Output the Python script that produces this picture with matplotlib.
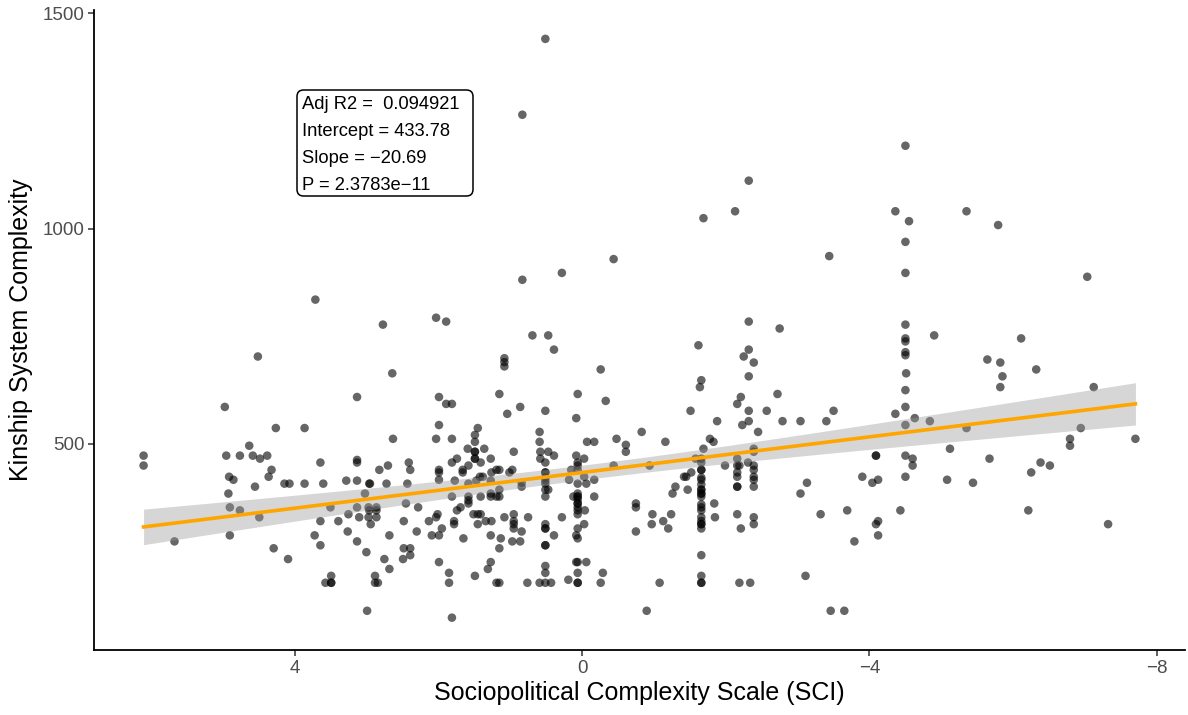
import numpy as np
import matplotlib
matplotlib.use("Agg")
import matplotlib.pyplot as plt
from matplotlib.patches import FancyBboxPatch

plt.rcParams['font.family'] = ['Liberation Sans', 'DejaVu Sans']

points = [
(0.51,1440),(0.83,1264),(-2.32,1111),(-1.69,1024),(-2.13,1040),(-3.44,936),(-4.5,1192),(-4.36,1040),(-4.55,1017),(-4.5,969),(-4.5,897),(-5.35,1040),(-5.79,1008),(-7.03,888),(0.83,881),(0.28,897),(-0.44,929),(3.71,835),
(4.51,703),(4.97,586),(4.26,537),(3.86,537),(3.13,609),(4.63,496),(6.10,473),(6.10,450),(4.95,473),(4.76,473),(4.58,473),(4.48,466),(4.38,473),(4.32,440),(4.36,424),(4.91,424),(4.85,417),(3.64,457),(3.13,463),(3.13,457),
(4.55,401),(4.14,408),(4.07,408),(3.86,408),(3.60,408),(3.28,415),(3.13,415),(2.96,408),(4.92,385),(4.90,353),(4.76,346),(4.49,330),(5.67,274),(4.90,288),(4.29,258),(4.09,233),(3.50,353),(3.64,321),(3.39,321),(3.25,337),(3.13,353),(3.10,330),(3.02,385),(2.97,353),(2.96,346),(2.97,330),(2.94,314),(3.72,288),(3.64,265),(3.26,297),(3.13,274),(3.00,249),(3.49,194),(3.57,178),(3.49,178),(3.49,178),(2.99,113),
(2.77,777),(2.03,793),(1.89,784),(2.64,664),(0.69,752),(0.47,752),(0.39,719),(1.08,699),(1.08,690),(1.08,680),(-0.26,673),(1.99,609),(1.89,593),(1.81,593),(1.15,616),(0.06,616),(-0.33,600),(0.86,586),(1.04,570),(0.51,577),(0.08,560),(1.99,544),(2.63,512),(2.03,512),(1.81,512),(1.45,537),(1.49,521),(1.49,505),(1.49,482),(1.49,482),(1.49,466),(1.49,466),(1.59,489),(1.36,489),(1.74,466),(1.81,457),(1.27,466),(1.41,457),(1.58,450),(1.66,440),(1.66,434),(1.99,440),(1.99,434),(1.99,417),(2.41,457),(2.39,440),(2.70,450),(2.82,440),(0.59,528),(0.59,505),(0.58,482),(0.47,482),(0.39,473),(0.58,466),(0.51,457),(0.51,434),(0.51,434),(0.51,422),(0.95,482),(0.97,440),(1.01,434),(1.19,440),(1.15,440),(1.26,434),(1.42,424),(1.38,424),(-0.07,505),(-0.17,505),(-0.48,512),(-0.61,498),(-0.61,482),(-0.83,528),(0.08,473),(-0.03,466),(0.06,457),(0.06,450),(0.06,440),(0.15,440),(-0.03,424),(-0.44,450),(0.18,417),(-0.17,417),(0.84,410),
(2.95,408),(2.72,408),(2.43,408),(1.77,415),(1.58,408),(1.47,415),(1.27,415),(0.84,401),(0.51,415),(0.51,408),(0.51,394),(0.51,378),(0.47,394),(0.06,408),(-0.06,408),
(2.86,353),(2.86,346),(2.86,330),
(2.45,362),(2.28,353),(2.48,321),(2.30,297),(2.68,288),(1.81,378),(1.58,378),(1.58,369),(1.58,362),(1.41,378),(1.27,385),(1.27,378),(1.15,394),(1.19,378),(1.15,378),(1.69,353),(1.74,346),(2.01,337),(2.03,330),(2.13,321),(1.51,337),(1.45,337),(1.41,337),(1.78,321),(1.78,314),(1.45,314),(1.34,321),(1.26,321),(1.08,330),(0.95,337),(0.95,321),(0.95,314),(0.95,304),(0.75,330),(0.84,297),(0.51,314),(0.51,304),(0.51,304),(0.39,288),(0.28,330),
(0.06,385),(0.06,378),(0.06,371),(0.06,362),(0.06,353),(0.06,346),(0.06,337),(0.06,378),(0.06,362),
(0.12,378),(-0.17,378),(-0.04,346),(0.06,304),(-0.03,314),(0.08,288),(0.06,281),(-0.75,362),(-0.75,353),(-0.75,297),(2.09,288),(1.99,288),(1.95,304),(1.65,281),(1.27,288),(1.13,281),(0.97,274),(0.86,274),(1.15,258),(0.51,265),(0.51,265),(2.48,258),(2.39,258),(2.39,242),(2.49,233),(2.75,233),(2.68,210),
(1.99,226),(1.27,226),(1.31,210),(1.85,201),(1.85,178),(1.49,194),(2.88,194),(2.84,178),(2.88,178),(1.19,178),(1.15,178),(0.76,178),(0.59,178),(0.51,178),(0.43,178),(0.51,201),(0.51,217),(0.19,185),(0.08,226),(0.06,226),(-0.06,226),(0.06,201),(0.06,178),(0.06,178),(-0.29,201),(-0.26,178),(1.81,97),(-0.90,113),
(-2.32,784),(-2.75,768),(-1.62,729),(-2.32,719),(-2.25,703),(-2.39,689),(-2.32,657),(-1.66,648),(-1.64,632),(-2.21,609),(-2.16,593),(-2.72,616),(-1.51,577),(-2.32,577),(-2.57,577),(-1.88,553),(-2.23,544),(-2.32,553),(-2.79,553),(-3.04,553),(-3.40,553),(-3.50,577),(-2.45,528),(-1.16,505),(-1.78,512),(-1.83,505),(-1.69,489),(-2.39,489),(-2.39,482),(-1.58,466),(-1.66,457),(-1.66,440),(-1.66,417),(-1.66,466),(-1.66,440),
(-0.94,450),(-2.16,466),(-2.16,450),(-2.19,450),(-2.16,434),(-2.16,424),(-2.31,457),(-2.39,450),(-2.39,440),(-2.39,424),(-2.39,417),(-1.99,450),(-1.52,434),(-1.42,424),(-1.45,424),(-3.90,424),(-4.09,473),(-4.09,473),(-4.12,417),(-4.04,410),(-3.13,410),
(-4.5,777),(-4.5,745),(-4.5,738),(-4.5,713),(-4.5,706),(-4.51,664),(-4.5,625),(-4.5,586),(-4.5,544),(-4.36,570),(-4.63,560),(-4.5,473),(-4.6,466),(-4.6,450),(-4.5,424),
(-4.90,752),(-6.11,745),(-5.64,696),(-5.82,689),(-5.85,657),(-5.82,632),(-6.32,673),(-7.12,632),(-4.84,553),(-5.35,537),(-6.94,537),(-6.79,512),(-6.79,496),(-7.70,512),(-5.12,489),(-5.67,466),(-6.38,457),(-6.51,450),(-6.25,434),(-5.08,417),(-5.44,410),(-6.21,346),(-7.32,314),
(-1.66,422),(-1.66,406),(-1.66,394),(-1.66,385),(-1.66,378),(-1.66,360),(-1.66,353),(-1.66,346),(-1.66,330),(-1.66,321),(-1.66,314),(-1.66,304),(-1.66,242),(-1.66,194),(-1.66,178),(-1.66,178),(-1.66,394),(-1.66,385),(-1.66,314),
(-1.30,401),(-1.26,385),(-1.47,394),(-1.84,362),(-1.85,330),(-0.98,337),(-1.24,337),(-0.97,314),(-1.13,321),(-1.20,304),(-1.08,178),
(-2.16,401),(-2.16,401),(-2.39,401),
(-2.16,337),(-2.21,304),(-2.39,330),(-2.39,314),(-2.19,178),(-2.34,178),(-3.04,385),(-3.32,337),(-3.69,346),(-3.11,194),(-3.79,274),(-3.46,113),(-3.65,113),(-4.12,321),(-4.09,314),(-4.12,288),(-4.43,346),
]
sci = [p[0] for p in points]
kinship = [p[1] for p in points]

intercept = 433.78
slope = -20.69
annotation = ["Adj R2 =  0.094921", "Intercept = 433.78", "Slope = \u221220.69", "P = 2.3783e\u221211"]

x = np.array(sci, dtype=float)
y = np.array(kinship, dtype=float)

fig = plt.figure(figsize=(11.88, 7.15), dpi=100)
ax = fig.add_axes([94/1188, 1-650/715, (1185-94)/1188, (650-10)/715])

ax.scatter(x, y, s=38, color='black', alpha=0.6, edgecolors='none', zorder=3)

# regression line + 95% CI
xs = np.linspace(x.min(), x.max(), 200)
ys = intercept + slope * xs
n = len(x)
resid = y - (intercept + slope * x)
s = np.sqrt(np.sum(resid**2) / (n - 2))
sxx = np.sum((x - x.mean())**2)
se = s * np.sqrt(1.0/n + (xs - x.mean())**2 / sxx)
tval = 1.966
ax.fill_between(xs, ys - tval*se, ys + tval*se, color='#999999', alpha=0.4, linewidth=0, zorder=4)
ax.plot(xs, ys, color='#FFA500', linewidth=2.6, zorder=5)

ax.set_xlim(6.79, -8.39)
ax.set_ylim(22, 1507)
ax.set_xticks([4, 0, -4, -8])
ax.set_yticks([500, 1000, 1500])

for side in ['top', 'right']:
    ax.spines[side].set_visible(False)
for side in ['left', 'bottom']:
    ax.spines[side].set_linewidth(1.3)
    ax.spines[side].set_color('black')
ax.tick_params(axis='both', direction='out', length=4, width=1.1, color='#333333',
               labelsize=13.5, labelcolor='#4d4d4d', pad=3)

ax.set_xlabel("Sociopolitical Complexity Scale (SCI)", fontsize=18, color='black', labelpad=3)
ax.set_ylabel("Kinship System Complexity", fontsize=18, color='black', labelpad=7)

# annotation label box
box = FancyBboxPatch(((297-94)/1091, (650-196)/640), 176/1091, 106/640,
                     boxstyle='round,pad=0,rounding_size=0.006', transform=ax.transAxes,
                     facecolor='white', edgecolor='black', linewidth=1.1, zorder=6,
                     mutation_aspect=1091/640)
ax.add_patch(box)
ax.text((302-94)/1091, (650-96)/640, "\n".join(annotation), transform=ax.transAxes,
        fontsize=13.2, va='top', ha='left', linespacing=1.77, zorder=7)

fig.savefig("out.png", dpi=100)
